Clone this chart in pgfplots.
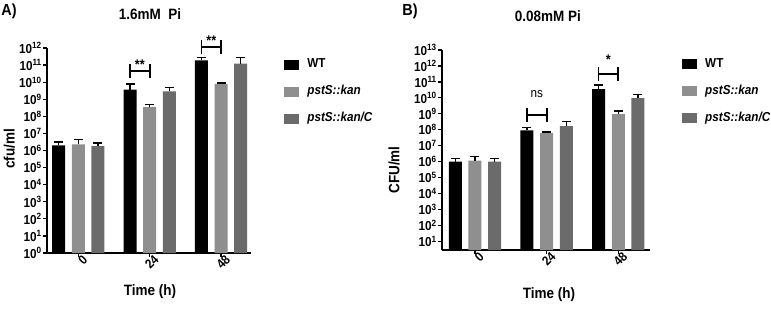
\documentclass[border=0pt]{standalone}
\usepackage{fontspec}
\setmainfont{Liberation Sans}[FakeStretch=0.9]
\usepackage{pgfplots}
\pgfplotsset{compat=1.18}
\definecolor{lg}{RGB}{143,143,143}
\definecolor{dg}{RGB}{107,107,107}
\begin{document}
\begin{tikzpicture}
\path[use as bounding box] (0pt,0pt) rectangle (771pt,316pt);
\node[font=\bfseries\fontsize{16}{16}\selectfont] at (9pt,305pt) {A)};
\node[font=\bfseries\fontsize{16}{16}\selectfont] at (410pt,305pt) {B)};
% Panel A
\begin{axis}[scale only axis, ymode=log, log basis y=10, log origin y=infty,
  axis x line*=bottom, axis y line*=left, axis line style={line width=1.7pt},
  tick align=outside, major tick length=4pt, tick style={line width=1.3pt,black},
  minor tick num=0,
  xtick={0,1,2}, xticklabels={0,24,48},
  xticklabel style={rotate=45, anchor=east, xshift=8pt, yshift=-5pt, font=\bfseries\fontsize{13}{13}\selectfont},
  yticklabel={10\textsuperscript{\pgfmathparse{int(round(\tick))}\pgfmathresult}},
  yticklabel style={font=\bfseries\fontsize{13}{13}\selectfont, inner sep=1pt},
  clip=false, bar width=13pt,
  legend style={draw=none, fill=none, inner sep=0pt, row sep=12.5pt,
    font=\bfseries\fontsize{13}{13}\selectfont, anchor=north west,
    nodes={inner sep=1pt, text depth=3pt, text height=9.5pt}, at={(1.162,0.955)},
    /tikz/every odd column/.append style={column sep=7pt}},
  legend cell align=left,
  at={(47pt,63pt)}, anchor=south west,
  width=204.1pt, height=205pt, xmin=-0.438, xmax=2.42,
  ymin=1, ymax=1e12,
  ytick={1,10,100,1e3,1e4,1e5,1e6,1e7,1e8,1e9,1e10,1e11,1e12},
  ylabel={cfu/ml}, ylabel style={font=\bfseries\fontsize{15}{15}\selectfont, anchor=center, at={(axis description cs:-0.185,0.507)}},
  xlabel={Time (h)}, xlabel style={font=\bfseries\fontsize{15}{15}\selectfont, anchor=center, at={(axis description cs:0.505,-0.19)}},
  title={1.6mM\ \ Pi}, title style={font=\bfseries\fontsize{15}{15}\selectfont, anchor=center, at={(axis description cs:0.505,1.137)}}]
\addplot[ybar, bar shift=0pt, fill=black, draw=none,
  legend image code/.code={\fill[black] (0pt,-5pt) rectangle (15pt,5pt);},
  error bars/.cd, y dir=plus, y explicit, error bar style={line width=1.4pt,black},
  error mark options={rotate=90, line width=1.4pt, mark size=4.5pt, black}]
  coordinates {(-0.275,2.0e6) +- (0,1.16e6) (0.725,3.63e9) +- (0,4.31e9) (1.725,1.905e11) +- (0,9.8e10)};
\addplot[ybar, bar shift=0pt, fill=lg, draw=none,
  legend image code/.code={\fill[lg] (0pt,-5pt) rectangle (15pt,5pt);},
  error bars/.cd, y dir=plus, y explicit, error bar style={line width=1.4pt,black},
  error mark options={rotate=90, line width=1.4pt, mark size=4.5pt, black}]
  coordinates {(0,2.29e6) +- (0,2.08e6) (1,3.47e8) +- (0,1.54e8) (2,7.94e9) +- (0,1.18e9)};
\addplot[ybar, bar shift=0pt, fill=dg, draw=none,
  legend image code/.code={\fill[dg] (0pt,-5pt) rectangle (15pt,5pt);},
  error bars/.cd, y dir=plus, y explicit, error bar style={line width=1.4pt,black},
  error mark options={rotate=90, line width=1.4pt, mark size=4.5pt, black}]
  coordinates {(0.275,1.82e6) +- (0,0.93e6) (1.275,2.88e9) +- (0,2.13e9) (2.275,1.20e11) +- (0,1.55e11)};
\legend{WT,\textit{pstS::kan},\textit{pstS::kan/C}}
\draw[line width=1.8pt] (axis cs:0.725,4.37e10) -- (axis cs:1,4.37e10);
\draw[line width=1.8pt] ([yshift=-7pt]axis cs:0.725,4.37e10) -- ([yshift=7pt]axis cs:0.725,4.37e10);
\draw[line width=1.8pt] ([yshift=-7pt]axis cs:1,4.37e10) -- ([yshift=7pt]axis cs:1,4.37e10);
\node[anchor=base, inner sep=0pt, font=\bfseries\fontsize{14}{14}\selectfont] at ([yshift=2pt]axis cs:0.8625,4.37e10) {**};
\draw[line width=1.8pt] (axis cs:1.725,1.1e12) -- (axis cs:2,1.1e12);
\draw[line width=1.8pt] ([yshift=-7pt]axis cs:1.725,1.1e12) -- ([yshift=7pt]axis cs:1.725,1.1e12);
\draw[line width=1.8pt] ([yshift=-7pt]axis cs:2,1.1e12) -- ([yshift=7pt]axis cs:2,1.1e12);
\node[anchor=base, inner sep=0pt, font=\bfseries\fontsize{14}{14}\selectfont] at ([yshift=2pt]axis cs:1.8625,1.1e12) {**};
\end{axis}
% Panel B
\begin{axis}[scale only axis, ymode=log, log basis y=10, log origin y=infty,
  axis x line*=bottom, axis y line*=left, axis line style={line width=1.7pt},
  tick align=outside, major tick length=4pt, tick style={line width=1.3pt,black},
  minor tick num=0,
  xtick={0,1,2}, xticklabels={0,24,48},
  xticklabel style={rotate=45, anchor=east, xshift=8pt, yshift=-5pt, font=\bfseries\fontsize{13}{13}\selectfont},
  yticklabel={10\textsuperscript{\pgfmathparse{int(round(\tick))}\pgfmathresult}},
  yticklabel style={font=\bfseries\fontsize{13}{13}\selectfont, inner sep=1pt},
  clip=false, bar width=13pt,
  legend style={draw=none, fill=none, inner sep=0pt, row sep=12.5pt,
    font=\bfseries\fontsize{13}{13}\selectfont, anchor=north west,
    nodes={inner sep=1pt, text depth=3pt, text height=9.5pt}, at={(1.155,0.965)},
    /tikz/every odd column/.append style={column sep=7pt}},
  legend cell align=left,
  at={(442pt,66pt)}, anchor=south west,
  width=207.8pt, height=200pt, xmin=-0.46, xmax=2.44,
  ymin=2.8, ymax=1e13,
  ytick={10,100,1e3,1e4,1e5,1e6,1e7,1e8,1e9,1e10,1e11,1e12,1e13},
  ylabel={CFU/ml}, ylabel style={font=\bfseries\fontsize{15}{15}\selectfont, anchor=center, at={(axis description cs:-0.231,0.40)}},
  xlabel={Time (h)}, xlabel style={font=\bfseries\fontsize{15}{15}\selectfont, anchor=center, at={(axis description cs:0.515,-0.225)}},
  title={0.08mM Pi}, title style={font=\bfseries\fontsize{15}{15}\selectfont, anchor=center, at={(axis description cs:0.51,1.14)}}]
\addplot[ybar, bar shift=0pt, fill=black, draw=none,
  legend image code/.code={\fill[black] (0pt,-5pt) rectangle (15pt,5pt);},
  error bars/.cd, y dir=plus, y explicit, error bar style={line width=1.4pt,black},
  error mark options={rotate=90, line width=1.4pt, mark size=4.5pt, black}]
  coordinates {(-0.275,1.0e6) +- (0,0.58e6) (0.725,8.9e7) +- (0,5.2e7) (1.725,3.55e10) +- (0,2.76e10)};
\addplot[ybar, bar shift=0pt, fill=lg, draw=none,
  legend image code/.code={\fill[lg] (0pt,-5pt) rectangle (15pt,5pt);},
  error bars/.cd, y dir=plus, y explicit, error bar style={line width=1.4pt,black},
  error mark options={rotate=90, line width=1.4pt, mark size=4.5pt, black}]
  coordinates {(0,1.12e6) +- (0,1.02e6) (1,6.03e7) +- (0,1.21e7) (2,9.55e8) +- (0,5.25e8)};
\addplot[ybar, bar shift=0pt, fill=dg, draw=none,
  legend image code/.code={\fill[dg] (0pt,-5pt) rectangle (15pt,5pt);},
  error bars/.cd, y dir=plus, y explicit, error bar style={line width=1.4pt,black},
  error mark options={rotate=90, line width=1.4pt, mark size=4.5pt, black}]
  coordinates {(0.275,1.0e6) +- (0,0.58e6) (1.275,1.66e8) +- (0,1.5e8) (2.275,9.55e9) +- (0,7.05e9)};
\legend{WT,\textit{pstS::kan},\textit{pstS::kan/C}}
\draw[line width=1.8pt] (axis cs:0.725,8.1e8) -- (axis cs:1,8.1e8);
\draw[line width=1.8pt] ([yshift=-7pt]axis cs:0.725,8.1e8) -- ([yshift=7pt]axis cs:0.725,8.1e8);
\draw[line width=1.8pt] ([yshift=-7pt]axis cs:1,8.1e8) -- ([yshift=7pt]axis cs:1,8.1e8);
\node[anchor=base, inner sep=0pt, font=\fontsize{13}{13}\selectfont] at ([yshift=18pt]axis cs:0.8625,8.1e8) {ns};
\draw[line width=1.8pt] (axis cs:1.725,3.0e11) -- (axis cs:2,3.0e11);
\draw[line width=1.8pt] ([yshift=-7pt]axis cs:1.725,3.0e11) -- ([yshift=7pt]axis cs:1.725,3.0e11);
\draw[line width=1.8pt] ([yshift=-7pt]axis cs:2,3.0e11) -- ([yshift=7pt]axis cs:2,3.0e11);
\node[anchor=base, inner sep=0pt, font=\bfseries\fontsize{14}{14}\selectfont] at ([yshift=10pt]axis cs:1.8625,3.0e11) {*};
\end{axis}
\end{tikzpicture}
\end{document}
